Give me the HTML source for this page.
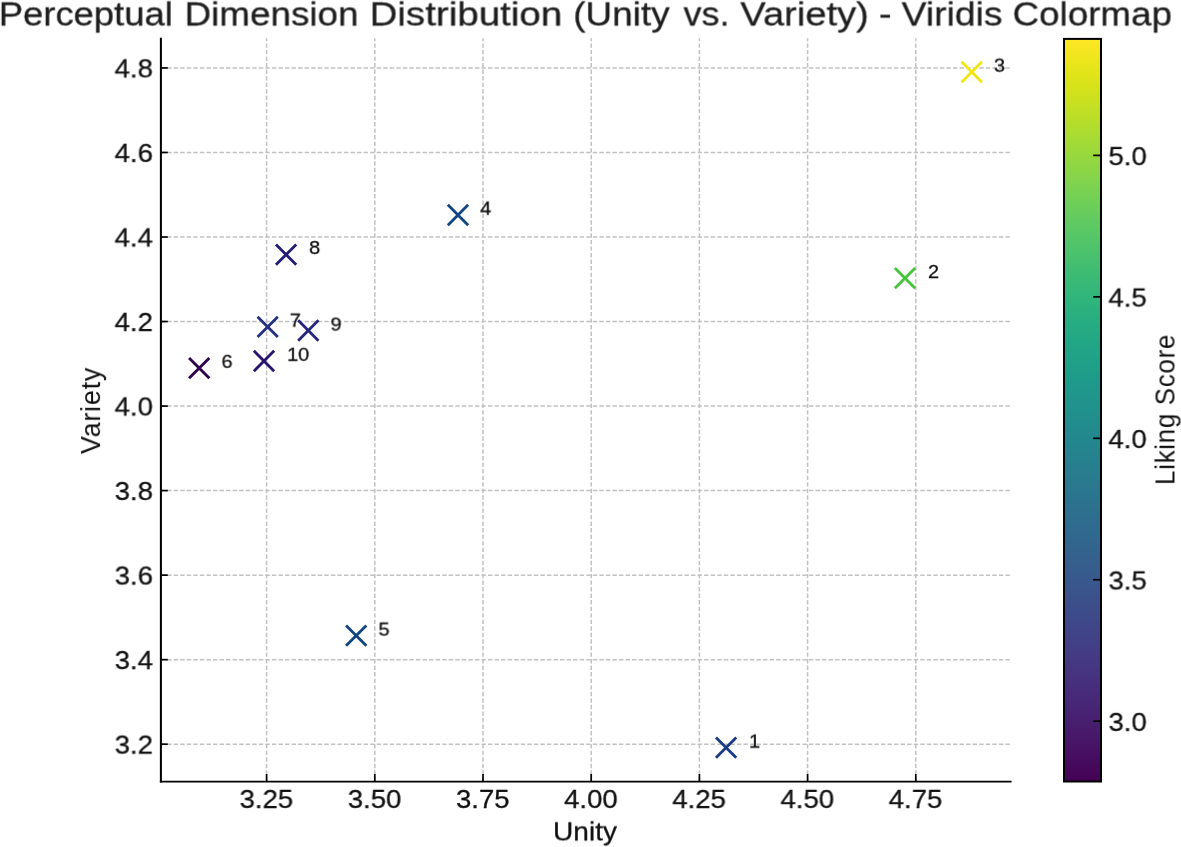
<!DOCTYPE html>
<html lang="en"><head><meta charset="utf-8">
<title>Perceptual Dimension Distribution (Unity vs. Variety) - Viridis Colormap</title>
<style>
html,body{margin:0;padding:0;background:#fff;}
body{width:1181px;height:847px;position:relative;overflow:hidden;font-family:"Liberation Sans",sans-serif;}
#chart{position:absolute;left:0;top:0;width:1181px;height:847px;display:block;}
.t{position:absolute;left:0;top:0;white-space:nowrap;margin:0;padding:0;font-family:"Liberation Sans",sans-serif;font-weight:400;will-change:transform;-webkit-text-stroke:0.3px currentColor;}
.title{position:absolute;left:0;top:0;margin:0;padding:0;font-size:0;line-height:0;font-weight:400;}
</style></head>
<body>
<svg id="chart" width="1181" height="847" viewBox="0 0 1181 847">
<defs><linearGradient id="vir" x1="0" y1="1" x2="0" y2="0"><stop offset="0.0000" stop-color="#440154"/><stop offset="0.0312" stop-color="#470d60"/><stop offset="0.0625" stop-color="#48186a"/><stop offset="0.0938" stop-color="#482374"/><stop offset="0.1250" stop-color="#472d7b"/><stop offset="0.1562" stop-color="#453781"/><stop offset="0.1875" stop-color="#424086"/><stop offset="0.2188" stop-color="#3e4989"/><stop offset="0.2500" stop-color="#3b528b"/><stop offset="0.2812" stop-color="#375b8d"/><stop offset="0.3125" stop-color="#33638d"/><stop offset="0.3438" stop-color="#2f6b8e"/><stop offset="0.3750" stop-color="#2c728e"/><stop offset="0.4062" stop-color="#297a8e"/><stop offset="0.4375" stop-color="#26828e"/><stop offset="0.4688" stop-color="#23898e"/><stop offset="0.5000" stop-color="#21918c"/><stop offset="0.5312" stop-color="#1f988b"/><stop offset="0.5625" stop-color="#1fa088"/><stop offset="0.5938" stop-color="#22a785"/><stop offset="0.6250" stop-color="#28ae80"/><stop offset="0.6562" stop-color="#32b67a"/><stop offset="0.6875" stop-color="#3fbc73"/><stop offset="0.7188" stop-color="#4ec36b"/><stop offset="0.7500" stop-color="#5ec962"/><stop offset="0.7812" stop-color="#70cf57"/><stop offset="0.8125" stop-color="#84d44b"/><stop offset="0.8438" stop-color="#98d83e"/><stop offset="0.8750" stop-color="#addc30"/><stop offset="0.9062" stop-color="#c2df23"/><stop offset="0.9375" stop-color="#d8e219"/><stop offset="0.9688" stop-color="#ece51b"/><stop offset="1.0000" stop-color="#fde725"/></linearGradient></defs>
<rect x="0" y="0" width="1181" height="847" fill="#ffffff"/>
<g stroke="#c1c1c1" stroke-width="1.5" stroke-dasharray="4.4,2.149" fill="none">
<line x1="266.60" y1="781.30" x2="266.60" y2="38.30"/><line x1="374.80" y1="781.30" x2="374.80" y2="38.30"/><line x1="483.00" y1="781.30" x2="483.00" y2="38.30"/><line x1="591.20" y1="781.30" x2="591.20" y2="38.30"/><line x1="699.40" y1="781.30" x2="699.40" y2="38.30"/><line x1="807.60" y1="781.30" x2="807.60" y2="38.30"/><line x1="915.80" y1="781.30" x2="915.80" y2="38.30"/><line x1="160.58" y1="67.95" x2="1010.60" y2="67.95"/><line x1="160.58" y1="152.48" x2="1010.60" y2="152.48"/><line x1="160.58" y1="237.01" x2="1010.60" y2="237.01"/><line x1="160.58" y1="321.54" x2="1010.60" y2="321.54"/><line x1="160.58" y1="406.07" x2="1010.60" y2="406.07"/><line x1="160.58" y1="490.60" x2="1010.60" y2="490.60"/><line x1="160.58" y1="575.13" x2="1010.60" y2="575.13"/><line x1="160.58" y1="659.66" x2="1010.60" y2="659.66"/><line x1="160.58" y1="744.19" x2="1010.60" y2="744.19"/>
</g>
<g stroke-width="2.8" stroke-linecap="butt" fill="none">
<path stroke="#1a3c86" d="M715.95 737.55L736.25 757.85M715.95 757.85L736.25 737.55"/><path stroke="#46c43c" d="M894.85 268.05L915.15 288.35M894.85 288.35L915.15 268.05"/><path stroke="#efe612" d="M961.65 61.85L981.95 82.15M961.65 82.15L981.95 61.85"/><path stroke="#114582" d="M447.85 204.85L468.15 225.15M447.85 225.15L468.15 204.85"/><path stroke="#114582" d="M346.05 625.55L366.35 645.85M346.05 645.85L366.35 625.55"/><path stroke="#2f034b" d="M189.05 358.05L209.35 378.35M189.05 378.35L209.35 358.05"/><path stroke="#23317e" d="M257.55 316.65L277.85 336.95M257.55 336.95L277.85 316.65"/><path stroke="#231c73" d="M275.95 244.45L296.25 264.75M275.95 264.75L296.25 244.45"/><path stroke="#26267f" d="M298.15 320.35L318.45 340.65M298.15 340.65L318.45 320.35"/><path stroke="#27146f" d="M253.85 350.85L274.15 371.15M253.85 371.15L274.15 350.85"/>
</g>
<g stroke="#000000" stroke-width="1.7" fill="none">
<line x1="266.60" y1="781.60" x2="266.60" y2="774.00"/><line x1="374.80" y1="781.60" x2="374.80" y2="774.00"/><line x1="483.00" y1="781.60" x2="483.00" y2="774.00"/><line x1="591.20" y1="781.60" x2="591.20" y2="774.00"/><line x1="699.40" y1="781.60" x2="699.40" y2="774.00"/><line x1="807.60" y1="781.60" x2="807.60" y2="774.00"/><line x1="915.80" y1="781.60" x2="915.80" y2="774.00"/><line x1="160.90" y1="67.95" x2="167.80" y2="67.95"/><line x1="160.90" y1="152.48" x2="167.80" y2="152.48"/><line x1="160.90" y1="237.01" x2="167.80" y2="237.01"/><line x1="160.90" y1="321.54" x2="167.80" y2="321.54"/><line x1="160.90" y1="406.07" x2="167.80" y2="406.07"/><line x1="160.90" y1="490.60" x2="167.80" y2="490.60"/><line x1="160.90" y1="575.13" x2="167.80" y2="575.13"/><line x1="160.90" y1="659.66" x2="167.80" y2="659.66"/><line x1="160.90" y1="744.19" x2="167.80" y2="744.19"/>
</g>
<g stroke="#000000" fill="none"><line x1="160.9" y1="37.70" x2="160.9" y2="782.55" stroke-width="2.05"/><line x1="159.88" y1="781.6" x2="1011.60" y2="781.6" stroke-width="1.9"/></g>
<rect x="1064.0" y="38.9" width="37.0" height="742.6" fill="url(#vir)"/>
<g stroke="#000000" stroke-width="1.7" fill="none"><line x1="1101.00" y1="155.40" x2="1093.20" y2="155.40"/><line x1="1101.00" y1="296.85" x2="1093.20" y2="296.85"/><line x1="1101.00" y1="438.30" x2="1093.20" y2="438.30"/><line x1="1101.00" y1="579.75" x2="1093.20" y2="579.75"/><line x1="1101.00" y1="721.20" x2="1093.20" y2="721.20"/></g>
<rect x="1064.0" y="38.9" width="37.0" height="742.6" fill="none" stroke="#000000" stroke-width="2" stroke-linejoin="miter"/>
</svg>
<h1 class="title"><span class="t" style="font-size:34.00px;line-height:34.00px;color:#1e1e1e;transform-origin:0 0;transform:translate(-1.22px,-3.53px) rotate(0.01deg) scaleX(1.0706);">Perceptual</span> <span class="t" style="font-size:34.00px;line-height:34.00px;color:#1e1e1e;transform-origin:0 0;transform:translate(184.55px,-3.53px) rotate(0.01deg) scaleX(1.0832);">Dimension</span> <span class="t" style="font-size:34.00px;line-height:34.00px;color:#1e1e1e;transform-origin:0 0;transform:translate(369.58px,-3.53px) rotate(0.01deg) scaleX(1.1328);">Distribution</span> <span class="t" style="font-size:34.00px;line-height:34.00px;color:#1e1e1e;transform-origin:0 0;transform:translate(573.22px,-3.53px) rotate(0.01deg) scaleX(1.0855);">(Unity</span> <span class="t" style="font-size:34.00px;line-height:34.00px;color:#1e1e1e;transform-origin:0 0;transform:translate(683.63px,-3.53px) rotate(0.01deg) scaleX(1.0541);">vs.</span> <span class="t" style="font-size:34.00px;line-height:34.00px;color:#1e1e1e;transform-origin:0 0;transform:translate(740.49px,-3.53px) rotate(0.01deg) scaleX(1.1200);">Variety)</span> <span class="t" style="font-size:34.00px;line-height:34.00px;color:#1e1e1e;transform-origin:0 0;transform:translate(879.00px,-3.53px) rotate(0.01deg) scaleX(1.1142);">-</span> <span class="t" style="font-size:34.00px;line-height:34.00px;color:#1e1e1e;transform-origin:0 0;transform:translate(901.72px,-3.53px) rotate(0.01deg) scaleX(1.0948);">Viridis</span> <span class="t" style="font-size:34.00px;line-height:34.00px;color:#1e1e1e;transform-origin:0 0;transform:translate(1012.59px,-3.53px) rotate(0.01deg) scaleX(1.0813);">Colormap</span></h1>
<div class="t" style="font-size:26.50px;line-height:26.50px;color:#111111;transform-origin:100% 0;transform:translate(-100%,0) translate(153.00px,55.37px) rotate(0.01deg) scaleX(1.0400);">4.8</div><div class="t" style="font-size:26.50px;line-height:26.50px;color:#111111;transform-origin:100% 0;transform:translate(-100%,0) translate(153.00px,139.90px) rotate(0.01deg) scaleX(1.0400);">4.6</div><div class="t" style="font-size:26.50px;line-height:26.50px;color:#111111;transform-origin:100% 0;transform:translate(-100%,0) translate(153.00px,224.43px) rotate(0.01deg) scaleX(1.0400);">4.4</div><div class="t" style="font-size:26.50px;line-height:26.50px;color:#111111;transform-origin:100% 0;transform:translate(-100%,0) translate(153.00px,308.96px) rotate(0.01deg) scaleX(1.0400);">4.2</div><div class="t" style="font-size:26.50px;line-height:26.50px;color:#111111;transform-origin:100% 0;transform:translate(-100%,0) translate(153.00px,393.49px) rotate(0.01deg) scaleX(1.0400);">4.0</div><div class="t" style="font-size:26.50px;line-height:26.50px;color:#111111;transform-origin:100% 0;transform:translate(-100%,0) translate(153.00px,478.02px) rotate(0.01deg) scaleX(1.0400);">3.8</div><div class="t" style="font-size:26.50px;line-height:26.50px;color:#111111;transform-origin:100% 0;transform:translate(-100%,0) translate(153.00px,562.55px) rotate(0.01deg) scaleX(1.0400);">3.6</div><div class="t" style="font-size:26.50px;line-height:26.50px;color:#111111;transform-origin:100% 0;transform:translate(-100%,0) translate(153.00px,647.08px) rotate(0.01deg) scaleX(1.0400);">3.4</div><div class="t" style="font-size:26.50px;line-height:26.50px;color:#111111;transform-origin:100% 0;transform:translate(-100%,0) translate(153.00px,731.61px) rotate(0.01deg) scaleX(1.0400);">3.2</div>
<div class="t" style="font-size:26.50px;line-height:26.50px;color:#111111;transform-origin:50% 0;transform:translate(-50%,0) translate(266.40px,785.97px) rotate(0.01deg) scaleX(1.0400);">3.25</div><div class="t" style="font-size:26.50px;line-height:26.50px;color:#111111;transform-origin:50% 0;transform:translate(-50%,0) translate(374.60px,785.97px) rotate(0.01deg) scaleX(1.0400);">3.50</div><div class="t" style="font-size:26.50px;line-height:26.50px;color:#111111;transform-origin:50% 0;transform:translate(-50%,0) translate(482.80px,785.97px) rotate(0.01deg) scaleX(1.0400);">3.75</div><div class="t" style="font-size:26.50px;line-height:26.50px;color:#111111;transform-origin:50% 0;transform:translate(-50%,0) translate(591.00px,785.97px) rotate(0.01deg) scaleX(1.0400);">4.00</div><div class="t" style="font-size:26.50px;line-height:26.50px;color:#111111;transform-origin:50% 0;transform:translate(-50%,0) translate(699.20px,785.97px) rotate(0.01deg) scaleX(1.0400);">4.25</div><div class="t" style="font-size:26.50px;line-height:26.50px;color:#111111;transform-origin:50% 0;transform:translate(-50%,0) translate(807.40px,785.97px) rotate(0.01deg) scaleX(1.0400);">4.50</div><div class="t" style="font-size:26.50px;line-height:26.50px;color:#111111;transform-origin:50% 0;transform:translate(-50%,0) translate(915.60px,785.97px) rotate(0.01deg) scaleX(1.0400);">4.75</div>
<div class="t" style="font-size:26.50px;line-height:26.50px;color:#111111;transform-origin:0 0;transform:translate(1108.50px,143.12px) rotate(0.01deg) scaleX(1.0400);">5.0</div><div class="t" style="font-size:26.50px;line-height:26.50px;color:#111111;transform-origin:0 0;transform:translate(1108.50px,284.57px) rotate(0.01deg) scaleX(1.0400);">4.5</div><div class="t" style="font-size:26.50px;line-height:26.50px;color:#111111;transform-origin:0 0;transform:translate(1108.50px,426.02px) rotate(0.01deg) scaleX(1.0400);">4.0</div><div class="t" style="font-size:26.50px;line-height:26.50px;color:#111111;transform-origin:0 0;transform:translate(1108.50px,567.47px) rotate(0.01deg) scaleX(1.0400);">3.5</div><div class="t" style="font-size:26.50px;line-height:26.50px;color:#111111;transform-origin:0 0;transform:translate(1108.50px,708.92px) rotate(0.01deg) scaleX(1.0400);">3.0</div>
<div class="t" style="font-size:26.20px;line-height:26.20px;color:#111111;transform-origin:50% 0;transform:translate(-50%,0) translate(585.00px,818.42px) rotate(0.01deg) scaleX(1.0730);">Unity</div><div class="t" style="font-size:27.30px;line-height:27.30px;color:#111111;transform-origin:50% 50%;transform:translate(-50%,-50%) translate(90.74px,410.50px) rotate(-89.99deg) scaleX(0.9850);-webkit-text-stroke:0.0px currentColor;letter-spacing:0.8px;">Variety</div><div class="t" style="font-size:27.30px;line-height:27.30px;color:#111111;transform-origin:50% 50%;transform:translate(-50%,-50%) translate(1165.14px,409.50px) rotate(-89.99deg) scaleX(0.9520);-webkit-text-stroke:0.0px currentColor;letter-spacing:0.7px;word-spacing:0.0px;">Liking Score</div>
<div class="t" style="font-size:18.50px;line-height:18.50px;color:#111111;transform-origin:50% 0;transform:translate(-50%,0) translate(754.60px,732.64px) rotate(0.01deg) scaleX(1.0800);">1</div><div class="t" style="font-size:18.50px;line-height:18.50px;color:#111111;transform-origin:50% 0;transform:translate(-50%,0) translate(933.60px,263.04px) rotate(0.01deg) scaleX(1.0800);">2</div><div class="t" style="font-size:18.50px;line-height:18.50px;color:#111111;transform-origin:50% 0;transform:translate(-50%,0) translate(999.60px,56.64px) rotate(0.01deg) scaleX(1.0800);">3</div><div class="t" style="font-size:18.50px;line-height:18.50px;color:#111111;transform-origin:50% 0;transform:translate(-50%,0) translate(485.80px,199.64px) rotate(0.01deg) scaleX(1.0800);">4</div><div class="t" style="font-size:18.50px;line-height:18.50px;color:#111111;transform-origin:50% 0;transform:translate(-50%,0) translate(384.10px,620.64px) rotate(0.01deg) scaleX(1.0800);">5</div><div class="t" style="font-size:18.50px;line-height:18.50px;color:#111111;transform-origin:50% 0;transform:translate(-50%,0) translate(227.10px,352.84px) rotate(0.01deg) scaleX(1.0800);">6</div><div class="t" style="font-size:18.50px;line-height:18.50px;color:#111111;transform-origin:50% 0;transform:translate(-50%,0) translate(295.40px,311.64px) rotate(0.01deg) scaleX(1.0800);">7</div><div class="t" style="font-size:18.50px;line-height:18.50px;color:#111111;transform-origin:50% 0;transform:translate(-50%,0) translate(314.75px,239.04px) rotate(0.01deg) scaleX(1.0800);">8</div><div class="t" style="font-size:18.50px;line-height:18.50px;color:#111111;transform-origin:50% 0;transform:translate(-50%,0) translate(336.15px,315.64px) rotate(0.01deg) scaleX(1.0800);">9</div><div class="t" style="font-size:18.50px;line-height:18.50px;color:#111111;transform-origin:50% 0;transform:translate(-50%,0) translate(298.25px,345.84px) rotate(0.01deg) scaleX(1.0800);">10</div>
</body></html>
